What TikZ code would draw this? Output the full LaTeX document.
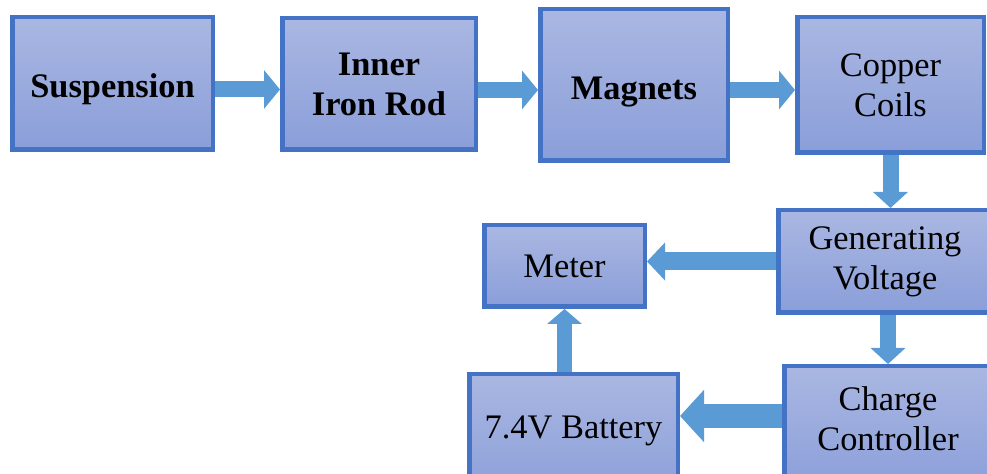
\documentclass[tikz,border=0pt]{standalone}
\usepackage{fontspec}
\setmainfont{Liberation Serif}
\usepackage{tikz}
\usetikzlibrary{
  arrows.meta,%
  calc,%
  positioning
}
\definecolor{boxtop}{RGB}{170,183,226}
\definecolor{boxbottom}{RGB}{138,158,217}
\definecolor{boxline}{RGB}{68,114,196}
\definecolor{arrowblue}{RGB}{91,155,213}
\tikzset{blockbox/.style={draw=boxline, line width=2.25pt, top color=boxtop,
    bottom color=boxbottom, inner sep=0pt, align=center,
    font=\fontsize{17.2}{20}\selectfont}}
\tikzset{flow/.style 2 args={draw=arrowblue, line width=#1,
    -{Triangle[width=#2, length=#1]}}}

\begin{document}
\begin{tikzpicture}[x=0.5pt, y=-0.5pt]
  \useasboundingbox (0,0) rectangle (987,474);
  % first row
  \node[blockbox, minimum width=100.25pt, minimum height=66.25pt] (susp) at (112.5,83.5) {\rule{0pt}{18pt}\textbf{Suspension}};
  \node[blockbox, minimum width=96.75pt, minimum height=65.75pt] (iron) at (379,84) {\textbf{Inner}\\\textbf{Iron Rod}};
  \node[blockbox, minimum width=93.75pt, minimum height=75.75pt] (magnets) at (634,85) {\rule{0pt}{18pt}\textbf{Magnets}};
  \node[blockbox, minimum width=93.25pt, minimum height=67.75pt] (copper) at (890.5,85) {Copper\\Coils};
  % lower part
  \node[blockbox, minimum width=106.75pt, minimum height=51.25pt] (genvolt) at (885,261.5) {Generating\\Voltage};
  \node[blockbox, minimum width=80.25pt, minimum height=40.75pt] (meter) at (564.5,266) {Meter};
  \node[blockbox, minimum width=104.25pt, minimum height=62.75pt] (battery) at (573.5,437) {\raisebox{10pt}{7.4V Battery}};
  \node[blockbox, minimum width=103.75pt, minimum height=62.75pt] (charge) at (888,429) {Charge\\Controller\\[-10pt]};
  % arrow ends
  \coordinate (a1) at ($(susp.east)+(0,6)$);
  \coordinate (a2) at ($(iron.east)+(0,6)$);
  \coordinate (a3) at ($(magnets.east)+(0,5)$);
  \coordinate (a4) at ($(charge.west)+(0,-13)$);
  % arrows
  \draw[flow={8pt}{19pt}] (a1) -- (a1 -| iron.west);
  \draw[flow={8pt}{19pt}] (a2) -- (a2 -| magnets.west);
  \draw[flow={8pt}{19pt}] (a3) -- (a3 -| copper.west);
  \draw[flow={8pt}{17pt}] (copper.south) -- (copper.south |- genvolt.north);
  \draw[flow={9pt}{18.5pt}] (genvolt.west) -- (genvolt.west -| meter.east);
  \draw[flow={8pt}{17pt}] (charge.north |- genvolt.south) -- (charge.north);
  \draw[flow={12pt}{25.5pt}] (a4) -- (a4 -| battery.east);
  \draw[flow={7.5pt}{17pt}] (meter.south |- battery.north) -- (meter.south);
\end{tikzpicture}
\end{document}
